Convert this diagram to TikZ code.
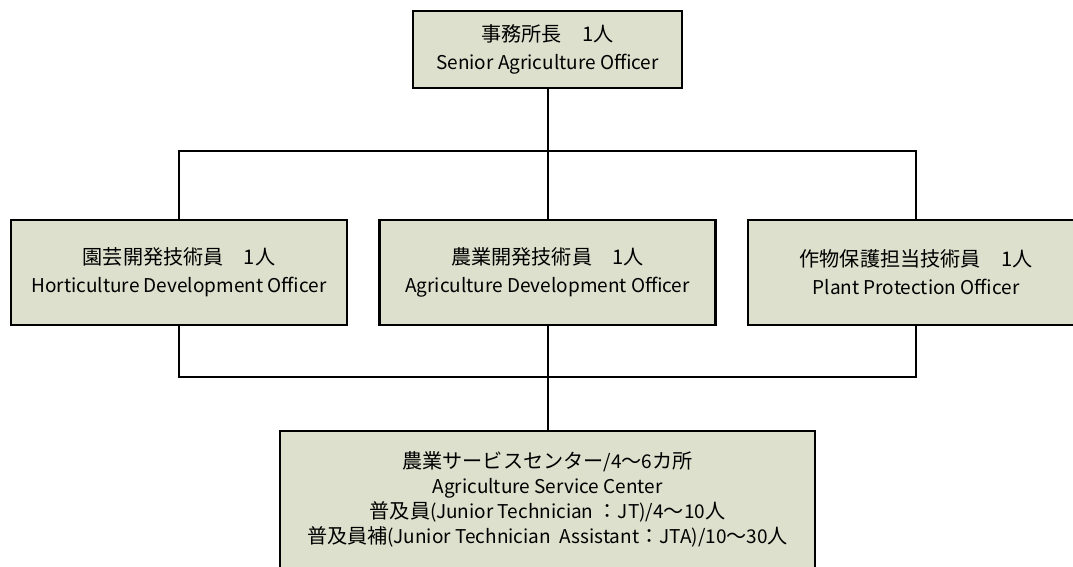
\documentclass[tikz,border=0pt]{standalone}
\usepackage{fontspec}
\setmainfont{Noto Sans CJK JP}
\newfontfamily\jp{Noto Sans CJK JP}[Scale=1.06]
\definecolor{boxfill}{RGB}{221,224,204}
\tikzset{
  orgbox/.style={draw=black, line width=2.5pt, fill=boxfill, align=center,
    inner sep=0pt, font=\fontsize{19}{28}\selectfont},
  link/.style={draw=black, line width=2pt}
}
\begin{document}
\begin{tikzpicture}[x=1pt,y=-1pt]
\useasboundingbox (0,0) rectangle (1073,566);
\clip (0,0) rectangle (1073,566);
\node[orgbox, minimum width=269pt, minimum height=77pt] (top) at (547.5,49.5)
  {{\jp 事務所長　1人}\\Senior Agriculture Officer};
\node[orgbox, minimum width=336pt, minimum height=105pt] (left) at (179,272.5)
  {{\jp 園芸開発技術員　1人}\\Horticulture Development Officer};
\node[orgbox, minimum width=336pt, minimum height=105pt] (mid) at (547.5,272.5)
  {{\jp 農業開発技術員　1人}\\Agriculture Development Officer};
\node[orgbox, minimum width=336pt, minimum height=105pt] (right) at (916,272.5)
  {{\jp 作物保護担当技術員　1人}\\Plant Protection Officer};
\node[orgbox, minimum width=535pt, minimum height=137pt,
  font=\fontsize{19}{25}\selectfont] (bot) at (547.5,499.5)
  {{\jp 農業サービスセンター}/4{\jp ～}6{\jp カ所}\\Agriculture Service Center\\
   {\jp 普及員}(Junior Technician {\jp ：}JT)/4{\jp ～}10{\jp 人}\\
   {\jp 普及員補}(Junior Technician\ \ Assistant{\jp ：}JTA)/10{\jp ～}30{\jp 人}};
\coordinate (j1) at (547.5,151);
\coordinate (j2) at (547.5,377);
\draw[link] (top.south) -- (mid.north);
\draw[link] (left.north) |- (j1) -| (right.north);
\draw[link] (left.south) |- (j2) -| (right.south);
\draw[link] (mid.south) -- (bot.north);
\end{tikzpicture}
\end{document}
